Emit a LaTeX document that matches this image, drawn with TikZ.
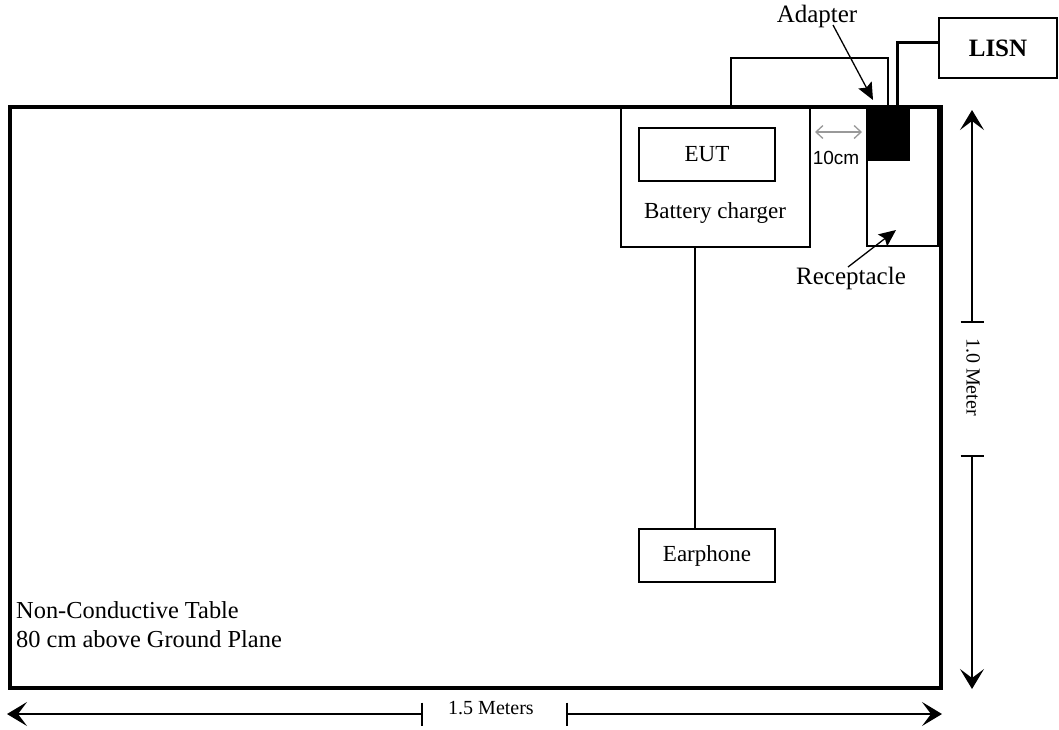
\documentclass[tikz,border=0pt]{standalone}
\usepackage{fontspec}
\setmainfont{Liberation Serif}
\newfontfamily\arialf{Liberation Sans}
\usetikzlibrary{arrows.meta}
\begin{document}
\begin{tikzpicture}[x=1pt,y=-1pt,
  box/.style={draw, line width=1.6pt, rectangle, inner sep=0pt},
  lbl/.style={font=\fontsize{25}{29}\selectfont, inner sep=0pt},
  tlbl/.style={font=\fontsize{24.4}{29}\selectfont, inner sep=0pt},
  slbl/.style={font=\fontsize{23}{27}\selectfont, inner sep=0pt},
  dimlbl/.style={font=\fontsize{20}{24}\selectfont, inner sep=0pt},
  dimline/.style={line width=1.6pt},
  dimarrow/.style={dimline, -{Stealth[length=20pt,width=24pt,inset=9pt]}},
  ptr/.style={line width=1.3pt, -{Stealth[length=17pt,width=15pt,inset=3pt]}},
  gap/.style={draw=gray!80, line width=1.3pt, {Straight Barb[length=7pt,width=13pt]}-{Straight Barb[length=7pt,width=13pt]}},
  wire/.style={line width=1.6pt},
  cord/.style={line width=3pt},
]
\useasboundingbox (0,0) rectangle (1059,729);

% table
\node[box, line width=3.5pt, minimum width=931pt, minimum height=581pt] (table) at (475.5,397.5) {};
\node[tlbl, anchor=west, align=left] (tabletxt) at (16,625) {Non-Conductive Table\\80 cm above Ground Plane};

% charger and EUT
\node[box, minimum width=189pt, minimum height=140pt] (charger) at (715.5,177) {};
\node[box, slbl, minimum width=136pt, minimum height=53pt] (eut) at (707,154.5) {EUT};
\node[slbl] (chargertxt) at (715,213) {Battery charger};

% receptacle and adapter
\node[box, minimum width=71pt, minimum height=139pt] (recept) at (902.5,176.5) {};
\node[rectangle, fill=black, inner sep=0pt, minimum width=42pt, minimum height=53pt] (adapter) at (889,134.5) {};

% LISN
\node[box, lbl, minimum width=118pt, minimum height=60pt] (lisn) at (998,48) {\bfseries LISN};

% earphone
\node[box, slbl, minimum width=136pt, minimum height=53pt] (earphone) at (707,555.5) {Earphone};

% wires
\draw[wire] ([xshift=-20.5pt]charger.south) -- ([xshift=-12pt]earphone.north);
\coordinate (ltop) at (888,58);
\draw[wire] ([xshift=15.5pt]charger.north) |- (ltop) -- (ltop |- recept.north);
\draw[cord] ([xshift=-5.5pt]recept.north) |- ([yshift=6pt]lisn.west);

% labels with pointers
\node[lbl] (adlbl) at (817,16) {Adapter};
\coordinate (adtail) at (833,25);
\coordinate (adtip) at (873,100);
\draw[ptr] (adtail) -- (adtip);

\node[lbl] (reclbl) at (851,278) {Receptacle};
\coordinate (rectail) at (848,267);
\coordinate (rectip) at (896,230);
\draw[ptr] (rectail) -- (rectip);

% 10 cm gap
\coordinate (gapl) at (815,132);
\coordinate (gapr) at (862,132);
\draw[gap] (gapl) -- (gapr);
\node[font=\arialf\fontsize{19}{22}\selectfont, inner sep=0pt] (gaptxt) at (836,158) {10cm};

% horizontal dimension
\coordinate (hl) at (7,714);
\coordinate (hm1) at (422,714);
\coordinate (hm2) at (567,714);
\coordinate (hr) at (942,714);
\draw[dimarrow] (hm1) -- (hl);
\draw[dimarrow] (hm2) -- (hr);
\draw[dimline] ([yshift=11.5pt]hm1) -- ([yshift=-11.5pt]hm1);
\draw[dimline] ([yshift=11.5pt]hm2) -- ([yshift=-11.5pt]hm2);
\node[dimlbl] (hlbl) at (491,708) {1.5 Meters};

% vertical dimension
\coordinate (vt) at (972,110);
\coordinate (vm1) at (972,322);
\coordinate (vm2) at (972,456);
\coordinate (vb) at (972,689);
\draw[dimarrow] (vm1) -- (vt);
\draw[dimarrow] (vm2) -- (vb);
\draw[dimline] ([xshift=-11.5pt]vm1) -- ([xshift=11.5pt]vm1);
\draw[dimline] ([xshift=-11.5pt]vm2) -- ([xshift=11.5pt]vm2);
\node[dimlbl, rotate=-90] (vlbl) at (973,377) {1.0 Meter};
\end{tikzpicture}
\end{document}
